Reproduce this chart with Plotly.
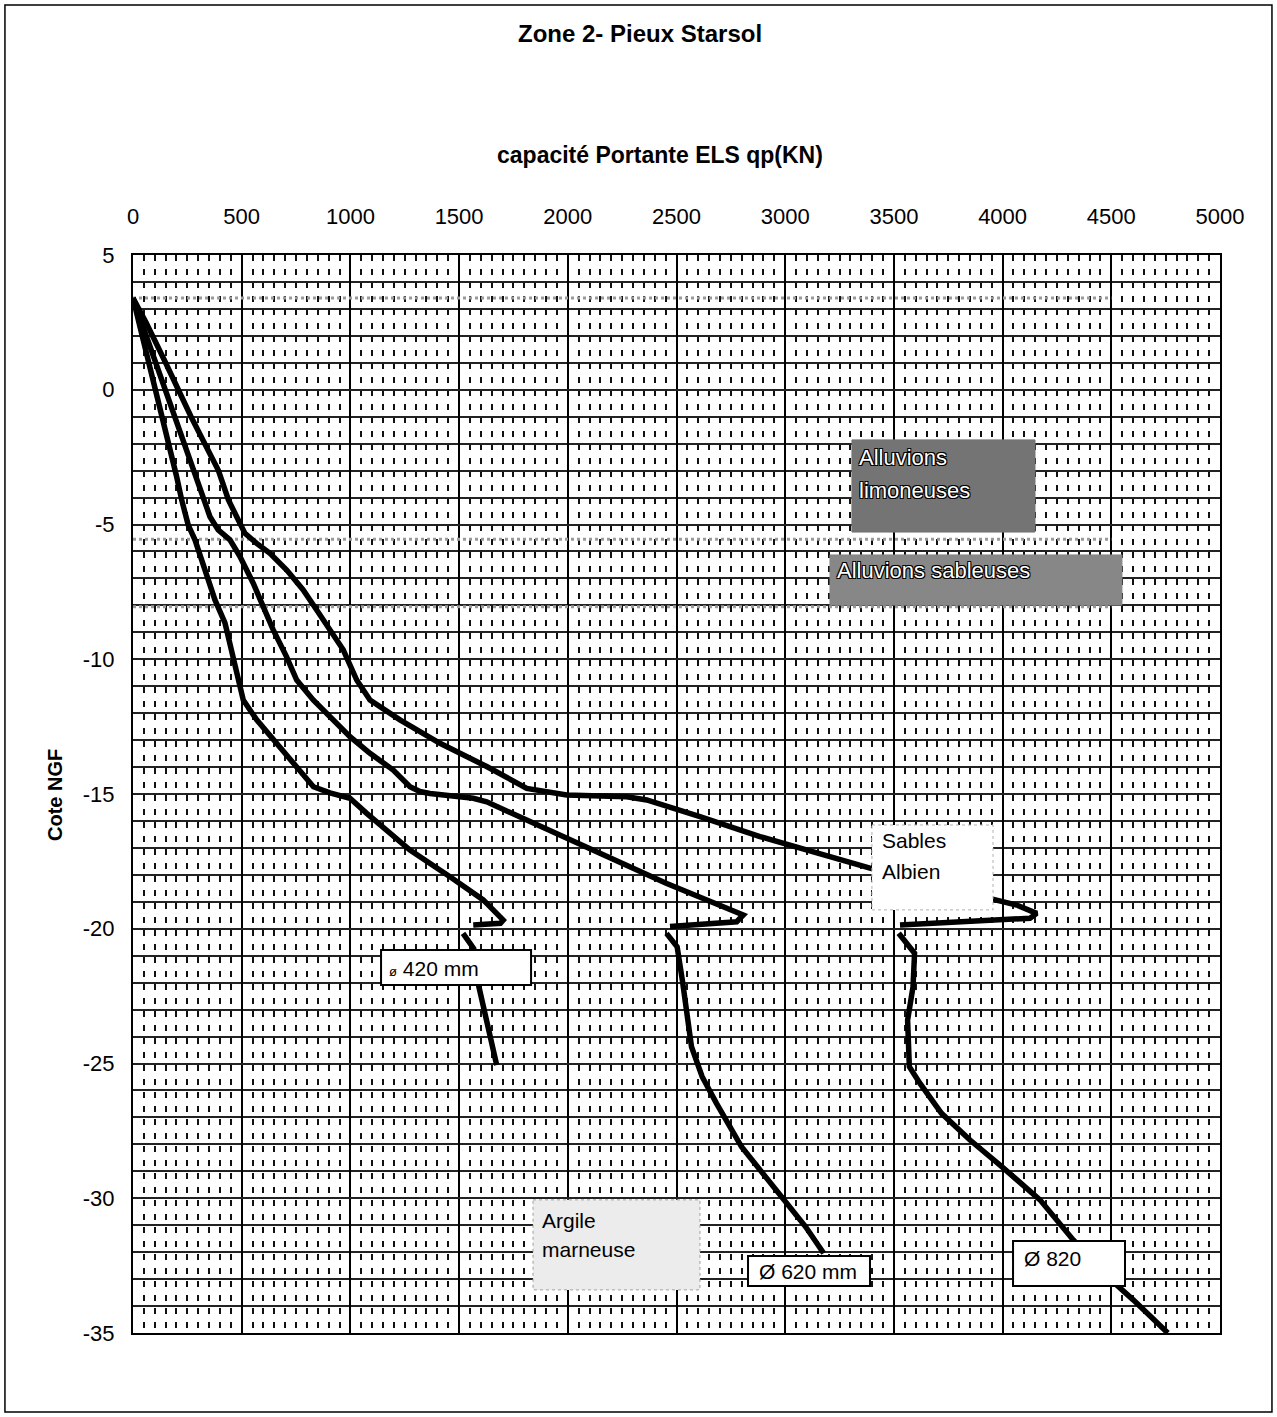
import plotly.graph_objects as go

# ---------------- data ----------------
# Pile diameter 420 mm
qp_420_upper = [0, 75, 150, 200, 224, 254, 285, 316, 354, 377, 423, 454, 477, 507, 569, 661, 753,
                830, 906, 998, 1075, 1274, 1458, 1611, 1703, 1690, 1565]
cote_420_upper = [3.4, 1.0, -1.5, -3.2, -4.09, -5.02, -5.57, -6.31, -7.16, -7.8, -8.65, -9.65, -10.5,
                  -11.51, -12.25, -13.1, -13.99, -14.73, -14.96, -15.16, -15.72, -17.08, -18.07,
                  -18.93, -19.68, -19.8, -19.86]
qp_420_lower = [1518, 1567, 1591, 1624, 1649, 1673]
cote_420_lower = [-20.17, -20.73, -22.15, -23.26, -24.25, -25.06]

# Pile diameter 620 mm
qp_620_upper = [0, 140, 280, 323, 354, 392, 446, 492, 553, 599, 645, 706, 753, 829, 998, 1090, 1197,
                1274, 1320, 1366, 1565, 1627, 1841, 2148, 2455, 2715, 2807, 2777, 2470]
cote_620_upper = [3.4, 0.2, -3.0, -4.09, -4.71, -5.2, -5.57, -6.19, -7.18, -8.05, -8.91, -9.9, -10.77,
                  -11.51, -12.87, -13.49, -14.11, -14.73, -14.91, -14.98, -15.16, -15.29, -16.09,
                  -17.2, -18.32, -19.18, -19.49, -19.74, -19.92]
qp_620_lower = [2454, 2503, 2528, 2544, 2569, 2618, 2684, 2799, 2898, 2996, 3094, 3177]
cote_620_lower = [-20.17, -20.67, -21.97, -23.02, -24.38, -25.49, -26.48, -28.09, -29.08, -30.06,
                  -31.06, -32.04]

# Pile diameter 820 mm
qp_820_upper = [0, 60, 150, 267, 393, 439, 477, 515, 569, 630, 707, 783, 845, 906, 967, 1029, 1090,
                1228, 1412, 1627, 1765, 1811, 1995, 2271, 2363, 2455, 2608, 2884, 3100, 3390, 3700,
                3956, 4065, 4157, 4126, 3528]
cote_820_upper = [3.4, 2.5, 1.0, -1.0, -3.0, -4.09, -4.71, -5.33, -5.7, -6.07, -6.69, -7.43, -8.17,
                  -8.91, -9.65, -10.77, -11.51, -12.25, -13.12, -13.98, -14.6, -14.79, -15.04, -15.1,
                  -15.22, -15.47, -15.84, -16.58, -17.1, -17.75, -18.4, -18.93, -19.12, -19.43,
                  -19.61, -19.86]
qp_820_lower = [3522, 3595, 3588, 3563, 3571, 3620, 3719, 3850, 3988, 4172, 4325, 4525, 4602, 4760]
cote_820_lower = [-20.17, -20.91, -22.15, -23.39, -25.12, -25.74, -26.85, -27.84, -28.77, -30.06,
                  -31.55, -33.22, -33.78, -35.0]

# Soil layer boundaries (Cote NGF)
layer_levels = [3.4, -5.55, -8.05]
layer_qp_extent = [0, 4500]

x_tickvals = [0, 500, 1000, 1500, 2000, 2500, 3000, 3500, 4000, 4500, 5000]
x_ticktext = ["0", "500", "1000", "1500", "2000", "2500", "3000", "3500", "4000", "4500", "5000"]
y_tickvals = [5, 0, -5, -10, -15, -20, -25, -30, -35]
y_ticktext = ["5", "0", "-5", "-10", "-15", "-20", "-25", "-30", "-35"]

FONT = "Liberation Sans, Arial, sans-serif"

fig = go.Figure()

# layer boundaries
for lv in layer_levels:
    fig.add_trace(go.Scatter(x=layer_qp_extent, y=[lv, lv], mode="lines",
                             line=dict(color="#9a9a9a", width=3, dash="dot"),
                             showlegend=False, hoverinfo="skip"))

segments = [
    (qp_420_upper, cote_420_upper), (qp_420_lower, cote_420_lower),
    (qp_620_upper, cote_620_upper), (qp_620_lower, cote_620_lower),
    (qp_820_upper, cote_820_upper), (qp_820_lower, cote_820_lower),
]
for xs, ys in segments:
    fig.add_trace(go.Scatter(x=xs, y=ys, mode="lines",
                             line=dict(color="black", width=5.5),
                             showlegend=False, hoverinfo="skip"))

shapes = []
annotations = []


def box(x0, x1, y0, y1, fill, line_color, line_width, dash="solid"):
    shapes.append(dict(type="rect", xref="x", yref="y", x0=x0, x1=x1, y0=y0, y1=y1,
                       fillcolor=fill, line=dict(color=line_color, width=line_width, dash=dash),
                       layer="above"))


def label(text, x, y, size=21, color="black", shadow=None):
    f = dict(family=FONT, size=size, color=color)
    if shadow:
        f["shadow"] = shadow
    annotations.append(dict(text=text, x=x, y=y, xref="x", yref="y", xanchor="left",
                            yanchor="middle", showarrow=False, font=f))


outline = "1px 1px 0 #000, -1px -1px 0 #000, 1px -1px 0 #000, -1px 1px 0 #000"

# diameter labels
box(1141, 1831, -20.79, -22.09, "white", "black", 2)
label("<span style='font-size:13px'>ø</span> 420 mm", 1168, -21.46)
box(2829, 3390, -32.14, -33.26, "white", "black", 2)
label("Ø 620 mm", 2870, -32.7)
box(4048, 4563, -31.59, -33.26, "white", "black", 2)
label("Ø 820", 4089, -32.22)

# soil labels
box(3399, 3956, -16.15, -19.3, "white", "#b0b0b0", 1, "dot")
label("Sables", 3436, -16.71)
label("Albien", 3436, -17.89)

box(3307, 4149, -1.86, -5.28, "#747474", "#747474", 1)
label("Alluvions", 3330, -2.53, size=22, color="white", shadow=outline)
label("limoneuses", 3330, -3.72, size=22, color="white", shadow=outline)

box(3206, 4549, -6.13, -7.99, "#878787", "#878787", 1)
label("Alluvions sableuses", 3229, -6.69, size=22, color="white", shadow=outline)

box(1840, 2608, -30.06, -33.4, "#ececec", "#a0a0a0", 1, "dot")
label("Argile", 1872, -30.81)
label("marneuse", 1872, -31.92)

# outer frame
shapes.append(dict(type="rect", xref="paper", yref="paper", x0=-0.1178, x1=1.0478,
                   y0=-0.0733, y1=1.2319, line=dict(color="black", width=1.5), layer="below"))

# titles
annotations.append(dict(text="<b>Zone 2- Pieux Starsol</b>", x=0.4664, y=1.2059, xref="paper",
                        yref="paper", showarrow=False, xanchor="center", yanchor="middle",
                        font=dict(family=FONT, size=24, color="black")))
annotations.append(dict(text="<b>capacité Portante ELS qp(KN)</b>", x=0.4848, y=1.0928,
                        xref="paper", yref="paper", showarrow=False, xanchor="center",
                        yanchor="middle", font=dict(family=FONT, size=23, color="black")))
annotations.append(dict(text="<b>Cote NGF</b>", x=-0.0718, y=0.499, xref="paper", yref="paper",
                        showarrow=False, xanchor="center", yanchor="middle", textangle=-90,
                        font=dict(family=FONT, size=20, color="black")))

fig.update_layout(
    width=1277, height=1417,
    margin=dict(l=133, r=57, t=255, b=84),
    paper_bgcolor="white", plot_bgcolor="white",
    shapes=shapes, annotations=annotations,
    xaxis=dict(side="top", range=[0, 5000], tickmode="array", tickvals=x_tickvals,
               ticktext=x_ticktext, showgrid=True, gridcolor="black", gridwidth=2,
               minor=dict(dtick=50, tick0=0, showgrid=True, gridcolor="#111", gridwidth=2,
                          griddash="6px,7.5px"),
               zeroline=False, showline=True, mirror=True, linecolor="black", linewidth=2,
               ticks="", ticklabelstandoff=20,
               tickfont=dict(family=FONT, size=22, color="black")),
    yaxis=dict(range=[-35, 5], tickmode="array", tickvals=y_tickvals, ticktext=y_ticktext,
               showgrid=True, gridcolor="#222", gridwidth=1.5,
               minor=dict(dtick=1, tick0=0, showgrid=True, gridcolor="#222", gridwidth=1.5),
               zeroline=False, showline=True, mirror=True, linecolor="black", linewidth=2,
               ticks="", ticklabelstandoff=12,
               tickfont=dict(family=FONT, size=22, color="black")),
)

fig.write_html("out.html")
